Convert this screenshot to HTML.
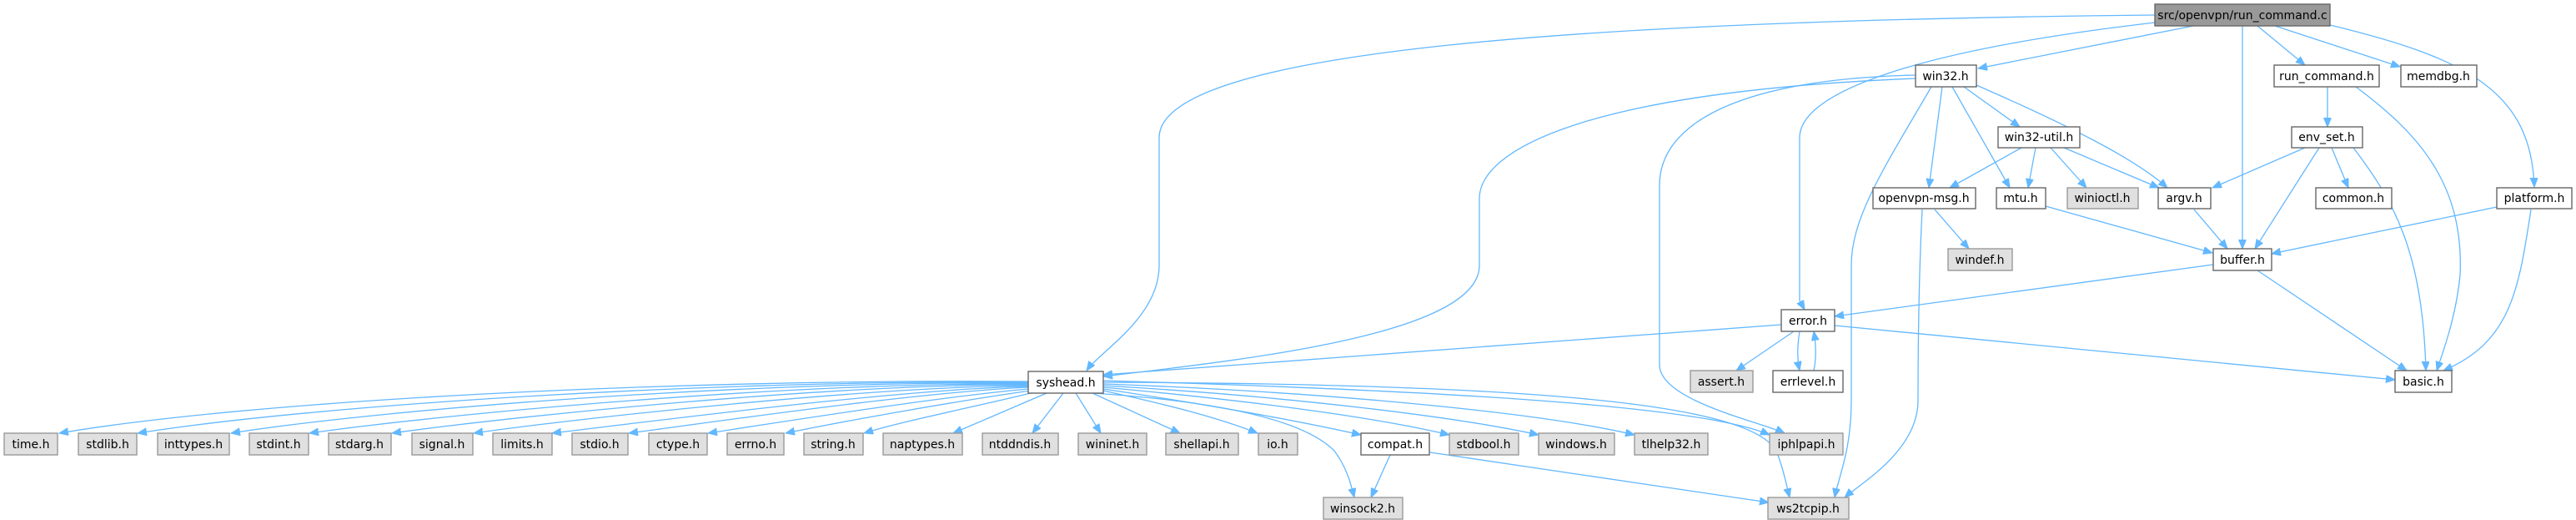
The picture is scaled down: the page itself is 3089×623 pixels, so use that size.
<!DOCTYPE html>
<html><head><meta charset="utf-8"><style>
html,body{margin:0;padding:0;background:#fff;}
svg{display:block;}
text{font-family:"DejaVu Sans","Liberation Sans",sans-serif;font-size:14px;fill:#000;text-anchor:middle;}
.w{fill:#fff;stroke:#666;stroke-width:1.4;}
.g{fill:#e0e0e0;stroke:#999;stroke-width:1.4;}
.r{fill:#999;stroke:#666;stroke-width:1.4;}
path.e{fill:none;stroke:#63b8ff;stroke-width:1.3;marker-end:url(#a);}
</style></head><body>
<svg width="3089" height="623" viewBox="0 0 3089 623" xmlns="http://www.w3.org/2000/svg">
<defs><marker id="a" markerWidth="12" markerHeight="10" refX="11" refY="4.5" orient="auto" markerUnits="userSpaceOnUse"><path d="M0,0 L11,4.5 L0,9 z" fill="#63b8ff" stroke="#63b8ff"/></marker></defs>
<g>
<!-- root edges -->
<path class="e" d="M2584,18 C1900,25 1390,60 1390,165 L1390,318 C1390,380 1320,420 1303,444"/>
<path class="e" d="M2584,27 C2300,60 2158,110 2158,165 L2158,360 L2164,371"/>
<path class="e" d="M2630,31 L2372,82"/>
<path class="e" d="M2689,31 L2689,298"/>
<path class="e" d="M2707,31 L2764,78"/>
<path class="e" d="M2728,31 L2878,80"/>
<path class="e" d="M2794,30 C2960,70 3035,110 3039,224"/>
<!-- win32 edges -->
<path class="e" d="M2297,94 C1900,110 1774,180 1774,238 L1774,318 C1774,400 1500,430 1323,451"/>
<path class="e" d="M2297,90 C2080,95 1990,150 1990,222 L1990,437 C1990,480 2110,505 2140,519"/>
<path class="e" d="M2316,104 C2260,200 2220,260 2220,318 L2220,480 C2220,540 2205,570 2200,596"/>
<path class="e" d="M2329,104 L2313,225"/>
<path class="e" d="M2341,104 L2410,225"/>
<path class="e" d="M2355,104 L2422,152"/>
<path class="e" d="M2370,102 C2480,150 2560,190 2599,225"/>
<!-- win32-util -->
<path class="e" d="M2424,177 L2338,225"/>
<path class="e" d="M2441,177 L2432,225"/>
<path class="e" d="M2459,177 L2502,225"/>
<path class="e" d="M2475,177 L2589,225"/>
<!-- env_set -->
<path class="e" d="M2764,177 L2653,225"/>
<path class="e" d="M2781,177 L2704,298"/>
<path class="e" d="M2796,177 L2816,225"/>
<path class="e" d="M2822,177 C2870,240 2905,300 2909,444"/>
<!-- run_command.h -->
<path class="e" d="M2791,104 L2791,152"/>
<path class="e" d="M2825,104 C2900,160 2955,220 2950,330 C2945,380 2930,420 2922,444"/>
<!-- platform -->
<path class="e" d="M2994,248 L2724,304"/>
<path class="e" d="M3035,251 C3020,350 3010,410 2930,444"/>
<!-- mtu, argv, openvpn-msg -->
<path class="e" d="M2453,247 L2653,303"/>
<path class="e" d="M2631,251 L2671,298"/>
<path class="e" d="M2320,251 L2361,298"/>
<path class="e" d="M2305,251 C2300,350 2300,450 2300,480 C2300,540 2230,580 2212,596"/>
<!-- buffer -->
<path class="e" d="M2654,317 L2200,379"/>
<path class="e" d="M2707,324 L2886,444"/>
<!-- error -->
<path class="e" d="M2136,389 L1323,449"/>
<path class="e" d="M2151,397 L2082,444"/>
<path class="e" d="M2158,397 C2155,415 2155,430 2158,444"/>
<path class="e" d="M2175,444 C2178,430 2178,415 2175,397"/>
<path class="e" d="M2200,390 L2872,455"/>
<!-- compat -->
<path class="e" d="M1667,545 L1644,596"/>
<path class="e" d="M1715,542 L2121,602"/>
<!-- syshead right side -->
<path class="e" d="M1310,471 C1450,480 1560,500 1600,540 C1615,560 1620,580 1624,596"/>
<path class="e" d="M1323,458 C1900,460 2100,490 2130,540 C2138,560 2142,580 2146,596"/>
<path class="e" d="M1323,456 C1800,470 2050,490 2122,521"/>
<path class="e" d="M1323,460 C1600,470 1850,495 1960,521"/>
<path class="e" d="M1323,462 C1550,475 1750,500 1845,521"/>
<path class="e" d="M1323,464 C1500,480 1650,500 1738,521"/>
<path class="e" d="M1323,466 C1450,485 1560,505 1632,521"/>
<path class="e" d="M1323,468 C1400,485 1460,500 1508,519"/>
<path class="e" d="M1310,471 L1415,519"/>
<path class="e" d="M1290,471 L1320,519"/>
<path class="e" d="M1275,471 L1238,519"/>
<path class="e" d="M1255,471 L1143,519"/>
<!-- syshead left side -->
<path class="e" d="M1240,470 C1180,485 1080,505 1036,519"/>
<path class="e" d="M1236,468 C1150,480 1010,505 942,519"/>
<path class="e" d="M1233,466 C1130,475 940,505 849,519"/>
<path class="e" d="M1233,464 C1100,470 860,505 754,519"/>
<path class="e" d="M1233,463 C1080,466 780,505 662,519"/>
<path class="e" d="M1233,462 C1050,463 700,500 568,519"/>
<path class="e" d="M1233,461 C1000,460 620,498 470,519"/>
<path class="e" d="M1233,460 C950,458 540,495 371,519"/>
<path class="e" d="M1233,459 C900,456 460,490 277,519"/>
<path class="e" d="M1233,458 C850,455 380,485 165,519"/>
<path class="e" d="M1233,457 C800,454 300,480 71,519"/>
</g>
<g>
<rect class="r" x="2584" y="5" width="210" height="26"/><text x="2689" y="23">src/openvpn/run_command.c</text>
<rect class="w" x="2297" y="78" width="73" height="26"/><text x="2333" y="96">win32.h</text>
<rect class="w" x="2727" y="78" width="126" height="26"/><text x="2790" y="96">run_command.h</text>
<rect class="w" x="2879" y="78" width="91" height="26"/><text x="2924" y="96">memdbg.h</text>
<rect class="w" x="2396" y="152" width="98" height="25"/><text x="2445" y="169">win32-util.h</text>
<rect class="w" x="2748" y="152" width="85" height="25"/><text x="2790" y="169">env_set.h</text>
<rect class="w" x="2246" y="225" width="123" height="25"/><text x="2307" y="242">openvpn-msg.h</text>
<rect class="w" x="2394" y="225" width="59" height="25"/><text x="2423" y="242">mtu.h</text>
<rect class="g" x="2479" y="225" width="85" height="25"/><text x="2521" y="242">winioctl.h</text>
<rect class="w" x="2588" y="225" width="63" height="25"/><text x="2619" y="242">argv.h</text>
<rect class="w" x="2777" y="225" width="91" height="25"/><text x="2822" y="242">common.h</text>
<rect class="w" x="2994" y="225" width="90" height="25"/><text x="3039" y="242">platform.h</text>
<rect class="g" x="2336" y="298" width="77" height="26"/><text x="2374" y="316">windef.h</text>
<rect class="w" x="2654" y="298" width="70" height="26"/><text x="2689" y="316">buffer.h</text>
<rect class="w" x="2136" y="371" width="64" height="26"/><text x="2168" y="389">error.h</text>
<rect class="g" x="2027" y="444" width="75" height="26"/><text x="2064" y="462">assert.h</text>
<rect class="w" x="2126" y="444" width="84" height="26"/><text x="2168" y="462">errlevel.h</text>
<rect class="w" x="2872" y="444" width="68" height="26"/><text x="2906" y="462">basic.h</text>
<rect class="w" x="1233" y="445" width="90" height="26"/><text x="1278" y="463">syshead.h</text>
<rect class="g" x="5" y="519" width="64" height="26"/><text x="37" y="537">time.h</text>
<rect class="g" x="94" y="519" width="70" height="26"/><text x="129" y="537">stdlib.h</text>
<rect class="g" x="189" y="519" width="86" height="26"/><text x="232" y="537">inttypes.h</text>
<rect class="g" x="299" y="519" width="71" height="26"/><text x="334" y="537">stdint.h</text>
<rect class="g" x="394" y="519" width="75" height="26"/><text x="431" y="537">stdarg.h</text>
<rect class="g" x="494" y="519" width="73" height="26"/><text x="530" y="537">signal.h</text>
<rect class="g" x="591" y="519" width="71" height="26"/><text x="626" y="537">limits.h</text>
<rect class="g" x="686" y="519" width="67" height="26"/><text x="719" y="537">stdio.h</text>
<rect class="g" x="778" y="519" width="70" height="26"/><text x="813" y="537">ctype.h</text>
<rect class="g" x="872" y="519" width="68" height="26"/><text x="906" y="537">errno.h</text>
<rect class="g" x="964" y="519" width="71" height="26"/><text x="999" y="537">string.h</text>
<rect class="g" x="1059" y="519" width="95" height="26"/><text x="1106" y="537">naptypes.h</text>
<rect class="g" x="1178" y="519" width="91" height="26"/><text x="1223" y="537">ntddndis.h</text>
<rect class="g" x="1293" y="519" width="82" height="26"/><text x="1334" y="537">wininet.h</text>
<rect class="g" x="1398" y="519" width="87" height="26"/><text x="1441" y="537">shellapi.h</text>
<rect class="g" x="1509" y="519" width="47" height="26"/><text x="1532" y="537">io.h</text>
<rect class="w" x="1632" y="519" width="82" height="26"/><text x="1673" y="537">compat.h</text>
<rect class="g" x="1738" y="519" width="83" height="26"/><text x="1779" y="537">stdbool.h</text>
<rect class="g" x="1845" y="519" width="91" height="26"/><text x="1890" y="537">windows.h</text>
<rect class="g" x="1960" y="519" width="88" height="26"/><text x="2004" y="537">tlhelp32.h</text>
<rect class="g" x="2122" y="519" width="88" height="26"/><text x="2166" y="537">iphlpapi.h</text>
<rect class="g" x="1587" y="596" width="95" height="26"/><text x="1634" y="614">winsock2.h</text>
<rect class="g" x="2120" y="596" width="97" height="26"/><text x="2168" y="614">ws2tcpip.h</text>
</g>
</svg>
</body></html>
